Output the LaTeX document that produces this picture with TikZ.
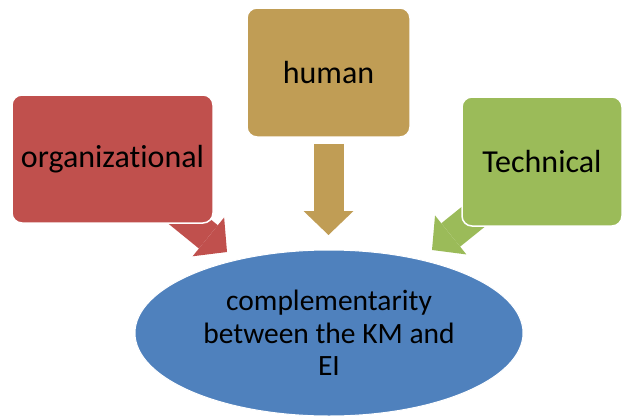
\documentclass[tikz,border=0pt]{standalone}
\usepackage{fontspec}
\setmainfont[Ligatures={NoCommon}]{Carlito}
\usetikzlibrary{arrows.meta,shapes.geometric,backgrounds}
\definecolor{orgred}{HTML}{C0504D}
\definecolor{humtan}{HTML}{C09D55}
\definecolor{tecgreen}{HTML}{9BBB59}
\definecolor{kmblue}{HTML}{4F81BD}
\tikzset{
  blk/.style={rectangle,rounded corners=10pt,draw=white,line width=1.5pt,inner sep=0pt,align=center,font=\fontsize{32}{38}\selectfont},
  orgblk/.style={blk,fill=orgred,minimum width=201pt,minimum height=128pt},
  humblk/.style={blk,fill=humtan,minimum width=163pt,minimum height=129pt},
  tecblk/.style={blk,fill=tecgreen,minimum width=160pt,minimum height=129pt},
  kmell/.style={ellipse,fill=kmblue,draw=white,line width=1pt,minimum width=388pt,minimum height=166pt,inner sep=0pt,align=center,font=\fontsize{29.5}{32.5}\selectfont},
  fatarr/.style={line width=30pt,-{Triangle[length=24pt,width=50pt,line width=0pt]}}
}

\begin{document}
\begin{tikzpicture}[x=1pt,y=1pt]
  \useasboundingbox (0,0) rectangle (623,-415);
  \node[orgblk] (org) at (112.5,-159) {organizational};
  \node[humblk] (hum) at (328.5,-72.5) {human};
  \node[tecblk] (tec) at (542,-161.5) {Technical};
  \node[kmell] (km) at (329,-333) {complementarity\\between the KM and\\EI};

  \coordinate (orgtip) at (227,-252);
  \coordinate (humtip) at (328.5,-235);
  \coordinate (tectip) at (432,-250);

  \begin{scope}[on background layer]
    \draw[fatarr,orgred] (org.center) -- (orgtip);
    \draw[fatarr,humtan] ([yshift=-6pt]hum.south) -- (humtip);
    \draw[fatarr,tecgreen] (tec.center) -- (tectip);
  \end{scope}
\end{tikzpicture}
\end{document}
